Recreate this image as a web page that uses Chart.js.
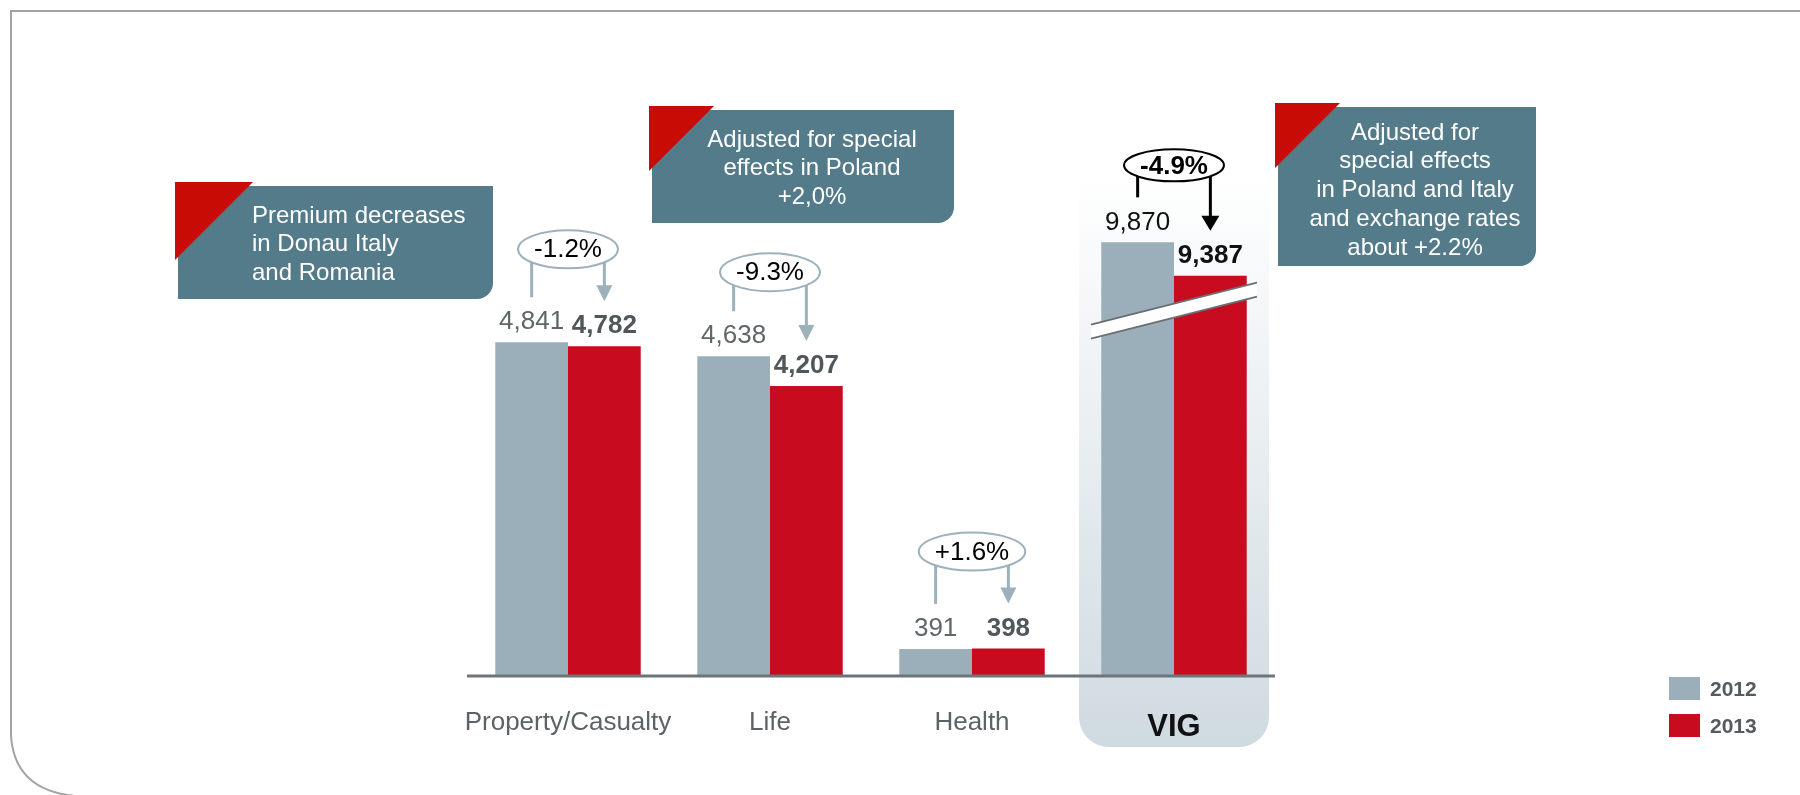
<!DOCTYPE html>
<html>
<head>
<meta charset="utf-8">
<script src="https://cdn.jsdelivr.net/npm/chart.js@4"></script>
<style>
  html, body { margin: 0; padding: 0; background: #fff; }
  #wrap { width: 1800px; height: 795px; }
</style>
</head>
<body>
<div id="wrap"><canvas id="premiumChart" width="1800" height="795"></canvas></div>
<script>
const categories = ['Property/Casualty', 'Life', 'Health', 'VIG'];
const seriesLabels = ['2012', '2013'];
const premiums2012 = [4841, 4638, 391, 9870];
const premiums2013 = [4782, 4207, 398, 9387];
const changeLabels = ['-1.2%', '-9.3%', '+1.6%', '-4.9%'];
const noteLines = [
  ['Premium decreases', 'in Donau Italy', 'and Romania'],
  ['Adjusted for special', 'effects in Poland', '+2,0%'],
  ['Adjusted for', 'special effects', 'in Poland and Italy', 'and exchange rates', 'about +2.2%']
];

// VIG column sits on a broken axis, this amount is cut out of its bars
const vigCut = 3580;

const FONT = '"Liberation Sans", Arial, sans-serif';
const GREY = '#9aafb9';
const RED = '#c80b1e';
const TEAL = '#547b8a';

// how high the change bubble sits above the labels (px)
const bubbleLift = [73, 64, 77, 57];

// callout boxes: box rect, red corner size, text anchor
const noteBoxes = [
  { x: 178, y: 186, w: 315, h: 113, tri: 78, align: 'left', tx: 252, ty: 216 },
  { x: 652, y: 110, w: 302, h: 113, tri: 65, align: 'center', tx: 812, ty: 140 },
  { x: 1278, y: 107, w: 258, h: 159, tri: 65, align: 'center', tx: 1415, ty: 133 }
];

function font(size, bold) {
  return (bold ? 'bold ' : '') + size + 'px ' + FONT;
}

function plotted(values) {
  return values.map((v, i) => categories[i] === 'VIG' ? v - vigCut : v);
}

function fmt(v) {
  return v.toLocaleString('en-US');
}

function drawFrame(ctx) {
  ctx.save();
  ctx.strokeStyle = '#a3a3a3';
  ctx.lineWidth = 2;
  ctx.beginPath();
  ctx.moveTo(1800, 11);
  ctx.lineTo(11, 11);
  ctx.lineTo(11, 735);
  ctx.quadraticCurveTo(14, 790, 75, 796);
  ctx.stroke();
  ctx.restore();
}

function drawNote(ctx, box, lines) {
  ctx.save();
  ctx.fillStyle = TEAL;
  ctx.beginPath();
  ctx.roundRect(box.x, box.y, box.w, box.h, [0, 0, 16, 0]);
  ctx.fill();
  ctx.fillStyle = '#c80c05';
  ctx.beginPath();
  ctx.moveTo(box.x - 3, box.y - 4);
  ctx.lineTo(box.x - 3 + box.tri, box.y - 4);
  ctx.lineTo(box.x - 3, box.y - 4 + box.tri);
  ctx.closePath();
  ctx.fill();
  ctx.fillStyle = '#ffffff';
  ctx.font = font(24);
  ctx.textAlign = box.align;
  ctx.textBaseline = 'middle';
  lines.forEach((line, k) => ctx.fillText(line, box.tx, box.ty + k * 28.8));
  ctx.restore();
}

function arrowDown(ctx, x, y0, y1, color, width, head) {
  ctx.strokeStyle = color;
  ctx.fillStyle = color;
  ctx.lineWidth = width;
  ctx.beginPath();
  ctx.moveTo(x, y0);
  ctx.lineTo(x, y1 - head.len + 1);
  ctx.stroke();
  ctx.beginPath();
  ctx.moveTo(x - head.half, y1 - head.len);
  ctx.lineTo(x + head.half, y1 - head.len);
  ctx.lineTo(x, y1);
  ctx.closePath();
  ctx.fill();
}

const decorations = {
  id: 'decorations',
  beforeDatasetsDraw(chart) {
    const ctx = chart.ctx;
    const xs = chart.scales.x;
    drawFrame(ctx);

    // highlight panel behind the VIG column
    const cx = xs.getPixelForValue(categories.indexOf('VIG'));
    const left = cx - 95, right = cx + 95, top = 175, bottom = 747;
    ctx.save();
    const grad = ctx.createLinearGradient(0, top, 0, bottom);
    grad.addColorStop(0, 'rgba(255,255,255,1)');
    grad.addColorStop(0.3, '#f1f4f6');
    grad.addColorStop(1, '#cfdae0');
    ctx.fillStyle = grad;
    ctx.beginPath();
    ctx.roundRect(left, top, right - left, bottom - top, [0, 0, 30, 30]);
    ctx.fill();
    ctx.restore();
  },
  afterDatasetsDraw(chart) {
    const ctx = chart.ctx;
    const xs = chart.scales.x;
    const ys = chart.scales.y;
    const area = chart.chartArea;
    const g = chart.getDatasetMeta(0).data;
    const r = chart.getDatasetMeta(1).data;
    const vig = categories.indexOf('VIG');

    ctx.save();
    // axis line
    ctx.strokeStyle = '#6d7579';
    ctx.lineWidth = 3;
    ctx.beginPath();
    ctx.moveTo(area.left, area.bottom);
    ctx.lineTo(area.right, area.bottom);
    ctx.stroke();

    // axis break across VIG bars
    const bx = xs.getPixelForValue(vig);
    const by = ys.getPixelForValue(5300);
    const half = 83, slope = 0.253, gap = 14;
    ctx.fillStyle = '#ffffff';
    ctx.beginPath();
    ctx.moveTo(bx - half, by - gap / 2 + half * slope);
    ctx.lineTo(bx + half, by - gap / 2 - half * slope);
    ctx.lineTo(bx + half, by + gap / 2 - half * slope);
    ctx.lineTo(bx - half, by + gap / 2 + half * slope);
    ctx.closePath();
    ctx.fill();
    ctx.strokeStyle = '#6b6f72';
    ctx.lineWidth = 2;
    ctx.beginPath();
    ctx.moveTo(bx - half, by - gap / 2 + half * slope);
    ctx.lineTo(bx + half, by - gap / 2 - half * slope);
    ctx.moveTo(bx - half, by + gap / 2 + half * slope);
    ctx.lineTo(bx + half, by + gap / 2 - half * slope);
    ctx.stroke();

    // value labels, change bubbles and arrows
    ctx.textAlign = 'center';
    ctx.textBaseline = 'middle';
    categories.forEach((cat, i) => {
      const isVig = i === vig;
      const gy = g[i].y - 20;
      const ry = r[i].y - 20;
      ctx.font = font(26);
      ctx.fillStyle = isVig ? '#111111' : '#5f666a';
      ctx.fillText(fmt(premiums2012[i]), g[i].x, gy);
      ctx.font = font(26, true);
      ctx.fillStyle = isVig ? '#111111' : '#50575b';
      ctx.fillText(fmt(premiums2013[i]), r[i].x, ry);

      const lineColor = isVig ? '#000000' : '#9db1bb';
      const cx = xs.getPixelForValue(i);
      const cy = Math.min(gy, ry) - bubbleLift[i];
      ctx.font = font(26, isVig);
      const tw = ctx.measureText(changeLabels[i]).width;
      const a = tw / 2 + 16;
      const b = isVig ? 16 : 19;

      ctx.strokeStyle = lineColor;
      ctx.lineWidth = 3;
      ctx.beginPath();
      ctx.moveTo(g[i].x, cy);
      ctx.lineTo(g[i].x, gy - 25);
      ctx.stroke();
      arrowDown(ctx, r[i].x, cy, ry - 25, lineColor, 3,
        isVig ? { len: 15, half: 9 } : { len: 16, half: 8 });

      ctx.fillStyle = '#ffffff';
      ctx.strokeStyle = lineColor;
      ctx.lineWidth = 2;
      ctx.beginPath();
      ctx.ellipse(cx, cy, a, b, 0, 0, Math.PI * 2);
      ctx.fill();
      ctx.stroke();
      ctx.fillStyle = '#000000';
      ctx.fillText(changeLabels[i], cx, cy + 1);

      // category labels
      if (isVig) {
        ctx.font = font(31, true);
        ctx.fillStyle = '#111111';
        ctx.fillText(cat, cx, 727);
      } else {
        ctx.font = font(26);
        ctx.fillStyle = '#5c6367';
        ctx.fillText(cat, cx, 723);
      }
    });

    // callouts
    noteBoxes.forEach((box, k) => drawNote(ctx, box, noteLines[k]));

    // legend
    chart.data.datasets.forEach((ds, k) => {
      const y = 677 + k * 37;
      ctx.fillStyle = ds.backgroundColor;
      ctx.fillRect(1669, y, 31, 23);
      ctx.font = font(21, true);
      ctx.fillStyle = '#555b5f';
      ctx.textAlign = 'left';
      ctx.fillText(ds.label, 1710, y + 13);
    });
    ctx.restore();
  }
};

new Chart(document.getElementById('premiumChart'), {
  type: 'bar',
  data: {
    labels: categories,
    datasets: [
      { label: seriesLabels[0], data: plotted(premiums2012), backgroundColor: GREY },
      { label: seriesLabels[1], data: plotted(premiums2013), backgroundColor: RED }
    ]
  },
  options: {
    responsive: false,
    animation: false,
    layout: { padding: { left: 467, right: 525, top: 90, bottom: 119 } },
    datasets: { bar: { categoryPercentage: 0.72, barPercentage: 1 } },
    scales: {
      x: { display: false },
      y: { display: false, min: 0, max: 8500 }
    },
    plugins: {
      legend: { display: false },
      tooltip: { enabled: false }
    }
  },
  plugins: [decorations]
});
</script>
</body>
</html>
